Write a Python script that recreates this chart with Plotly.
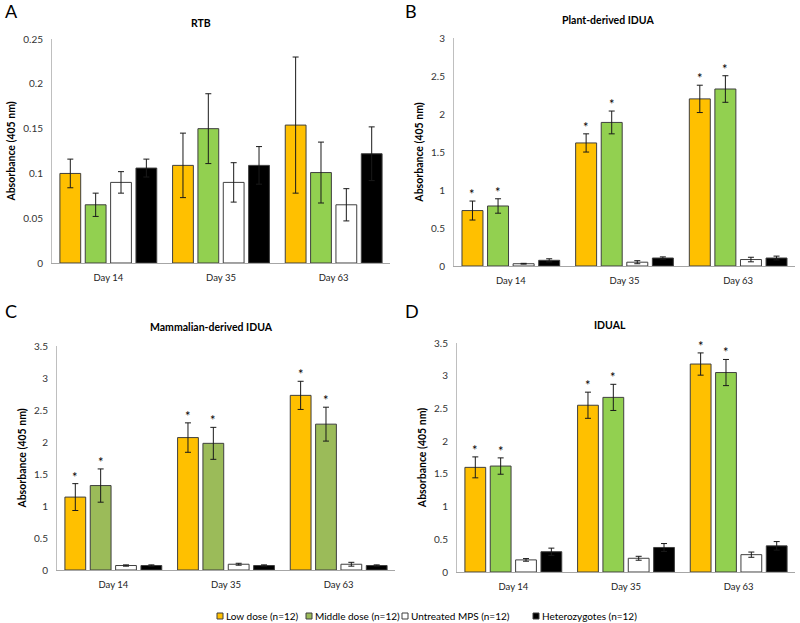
import plotly.graph_objects as go

days = ["Day 14", "Day 35", "Day 63"]
groups = ["Low dose (n=12)", "Middle dose (n=12)", "Untreated MPS (n=12)", "Heterozygotes (n=12)"]

# Panel A: RTB
rtb_low = [0.100, 0.109, 0.154]
rtb_mid = [0.065, 0.150, 0.101]
rtb_unt = [0.090, 0.090, 0.065]
rtb_het = [0.106, 0.109, 0.122]
rtb_low_err = [0.016, 0.036, 0.076]
rtb_mid_err = [0.013, 0.039, 0.034]
rtb_unt_err = [0.012, 0.022, 0.018]
rtb_het_err = [0.010, 0.021, 0.030]

# Panel B: Plant-derived IDUA
pl_low = [0.73, 1.62, 2.20]
pl_mid = [0.79, 1.89, 2.33]
pl_unt = [0.03, 0.05, 0.085]
pl_het = [0.075, 0.105, 0.105]
pl_low_err = [0.125, 0.12, 0.18]
pl_mid_err = [0.095, 0.15, 0.175]
pl_unt_err = [0.005, 0.02, 0.03]
pl_het_err = [0.02, 0.015, 0.025]

# Panel C: Mammalian-derived IDUA
ma_low = [1.14, 2.07, 2.73]
ma_mid = [1.32, 1.98, 2.28]
ma_unt = [0.07, 0.09, 0.09]
ma_het = [0.07, 0.07, 0.07]
ma_low_err = [0.21, 0.23, 0.22]
ma_mid_err = [0.26, 0.25, 0.265]
ma_unt_err = [0.01, 0.015, 0.03]
ma_het_err = [0.01, 0.01, 0.01]

# Panel D: IDUAL
du_low = [1.60, 2.55, 3.18]
du_mid = [1.62, 2.67, 3.05]
du_unt = [0.185, 0.21, 0.265]
du_het = [0.31, 0.375, 0.40]
du_low_err = [0.16, 0.20, 0.17]
du_mid_err = [0.125, 0.20, 0.20]
du_unt_err = [0.02, 0.03, 0.04]
du_het_err = [0.055, 0.06, 0.065]

titles = ["RTB", "Plant-derived IDUA", "Mammalian-derived IDUA", "IDUAL"]
letters = ["A", "B", "C", "D"]
panels = [
    (rtb_low, rtb_mid, rtb_unt, rtb_het, rtb_low_err, rtb_mid_err, rtb_unt_err, rtb_het_err, False),
    (pl_low, pl_mid, pl_unt, pl_het, pl_low_err, pl_mid_err, pl_unt_err, pl_het_err, True),
    (ma_low, ma_mid, ma_unt, ma_het, ma_low_err, ma_mid_err, ma_unt_err, ma_het_err, True),
    (du_low, du_mid, du_unt, du_het, du_low_err, du_mid_err, du_unt_err, du_het_err, True),
]
yranges = [(0.25, 0.05), (3, 0.5), (3.5, 0.5), (3.5, 0.5)]

W, H = 800, 623
# pixel boxes: x0, x1, ytop, ybottom
boxes = [(52, 390, 39, 263), (454, 795, 38, 266), (57, 395, 346, 570), (457, 795, 343, 572)]
title_pos = [(201, 23), (608, 20), (211, 327), (610, 325)]
letter_pos = [(3, 11), (403, 11), (3, 311), (403, 311)]

ORANGE = "#FFC000"
GREENS = ["#92D050", "#92D050", "#9BBB59", "#92D050"]
OUTLINE = "#3F3F3F"
FONT = "Lato"

fig = go.Figure()
annotations = []
shapes = []
layout_axes = {}

BARGAP = 0.10
GROUPGAP = 0.18
slot = (1 - BARGAP) / 4

for i, p in enumerate(panels):
    low, mid, unt, het, el, em, eu, eh, stars = p
    xa = "x" if i == 0 else f"x{i+1}"
    ya = "y" if i == 0 else f"y{i+1}"
    colors = [ORANGE, GREENS[i], "#FFFFFF", "#000000"]
    vals = [low, mid, unt, het]
    errs = [el, em, eu, eh]
    for g in range(4):
        fig.add_trace(go.Bar(
            x=days, y=vals[g], name=groups[g],
            marker=dict(color=colors[g], line=dict(color=OUTLINE, width=1)),
            error_y=dict(type="data", array=errs[g], color="#1a1a1a", thickness=1, width=3),
            xaxis=xa, yaxis=ya, showlegend=False,
        ))
    if stars:
        for g in range(2):
            off = -(1 - BARGAP) / 2 + slot * (g + 0.5)
            for d in range(3):
                annotations.append(dict(
                    x=d + off, y=vals[g][d] + errs[g][d], xref=xa, yref=ya,
                    text="*", showarrow=False, yanchor="bottom", yshift=-3,
                    font=dict(family=FONT, size=13, color="#000"),
                ))
    x0, x1, yt, yb = boxes[i]
    sfx = "" if i == 0 else str(i + 1)
    layout_axes["xaxis" + sfx] = dict(
        domain=[x0 / W, x1 / W], anchor=ya, showline=True, linecolor="#A6A6A6",
        linewidth=1, ticks="", showgrid=False, zeroline=False, automargin=False,
        tickfont=dict(family=FONT, size=9.5, color="#222"), ticklabelstandoff=6,
    )
    ymax, dt = yranges[i]
    layout_axes["yaxis" + sfx] = dict(
        domain=[1 - yb / H, 1 - yt / H], anchor=xa, range=[0, ymax * 1.0005],
        dtick=dt, tick0=0, showline=True, linecolor="#BFBFBF", linewidth=1,
        ticks="", showgrid=False, zeroline=False, automargin=False,
        tickfont=dict(family=FONT, size=10, color="#333"), ticklabelstandoff=6,
        title=dict(text="<b>Absorbance (405 nm)</b>", font=dict(family=FONT, size=10.5, color="#000"), standoff=5),
    )
    tx, ty = title_pos[i]
    annotations.append(dict(
        x=tx / W, y=1 - ty / H, xref="paper", yref="paper", text=f"<b>{titles[i]}</b>",
        showarrow=False, xanchor="center", yanchor="middle",
        font=dict(family=FONT, size=10.5, color="#000"),
    ))
    lx, ly = letter_pos[i]
    annotations.append(dict(
        x=lx / W, y=1 - ly / H, xref="paper", yref="paper", text=letters[i],
        showarrow=False, xanchor="left", yanchor="middle",
        font=dict(family=FONT, size=18, color="#000"),
    ))

# manual legend
leg_colors = [ORANGE, "#9BBB59", "#FFFFFF", "#000000"]
leg_x = [217, 306, 402, 533]
leg_y = 616
for g in range(4):
    sx = leg_x[g]
    shapes.append(dict(
        type="rect", xref="paper", yref="paper",
        x0=sx / W, x1=(sx + 6) / W, y0=1 - (leg_y + 3) / H, y1=1 - (leg_y - 3) / H,
        fillcolor=leg_colors[g], line=dict(color="#3F3F3F", width=1),
    ))
    annotations.append(dict(
        x=(sx + 7) / W, y=1 - leg_y / H, xref="paper", yref="paper", text=groups[g],
        showarrow=False, xanchor="left", yanchor="middle",
        font=dict(family=FONT, size=10, color="#000"),
    ))

fig.update_layout(
    width=W, height=H,
    margin=dict(l=0, r=0, t=0, b=0),
    paper_bgcolor="white", plot_bgcolor="white",
    barmode="group", bargap=BARGAP, bargroupgap=GROUPGAP,
    annotations=annotations, shapes=shapes, showlegend=False,
    **layout_axes,
)

fig.write_html("out.html", config={"displayModeBar": False},
               post_script="document.body.style.margin='0px';document.body.style.overflow='hidden';")
